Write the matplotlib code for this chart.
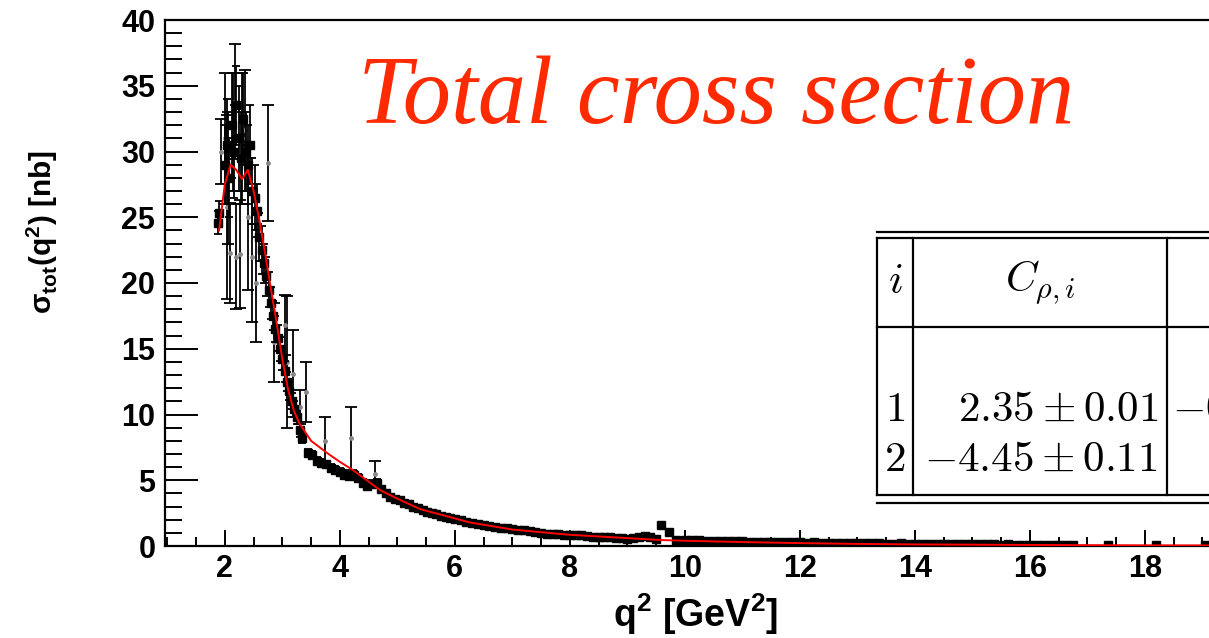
"""Total cross section vs q^2 with fit curve and coefficient table."""

import matplotlib
matplotlib.use("Agg")
import matplotlib.pyplot as plt
from matplotlib.lines import Line2D
from matplotlib.ticker import MultipleLocator

# black squares (dense data set)
x_sq = [1.88, 1.90, 2.00, 2.04, 2.08, 2.12, 2.16, 2.20, 2.24, 2.28, 2.32, 2.36, 2.40, 2.44,
        2.48, 2.52, 2.56, 2.60, 2.64, 2.68, 2.72, 2.76, 2.80, 2.84, 2.88, 2.92, 2.96, 3.00,
        3.04, 3.08, 3.12, 3.16, 3.20, 3.25, 3.30, 3.35, 3.45, 3.52, 3.60, 3.68, 3.76, 3.84,
        3.92, 4.00, 4.08, 4.16, 4.24, 4.32, 4.40, 4.48, 4.56, 4.64, 4.72, 4.80, 4.88, 4.96,
        5.04, 5.12, 5.20, 5.28, 5.36, 5.44, 5.52, 5.60, 5.68, 5.76, 5.84, 5.92, 6.00, 6.10,
        6.20, 6.30, 6.40, 6.50, 6.60, 6.70, 6.80, 6.90, 7.00, 7.10, 7.20, 7.30, 7.40, 7.50,
        7.60, 7.70, 7.80, 7.90, 8.00, 8.10, 8.20, 8.30, 8.40, 8.50, 8.60, 8.70, 8.80, 8.90,
        9.00, 9.10, 9.20, 9.30, 9.40, 9.50, 9.58, 9.72, 9.85,
        10.0, 10.125, 10.25, 10.375, 10.5, 10.625, 10.75, 10.875, 11.0, 11.125, 11.25,
        11.375, 11.5, 11.625, 11.75, 11.875, 12.0, 12.125, 12.25, 12.375, 12.5, 12.625,
        12.75, 12.875, 13.0, 13.125, 13.25, 13.375, 13.5, 13.625, 13.75, 13.875, 14.0,
        14.125, 14.25, 14.375, 14.5, 14.625, 14.75, 14.875, 15.0, 15.125, 15.25, 15.375,
        15.5, 15.625, 15.75, 15.875, 16.0, 16.125, 16.25, 16.375, 16.5, 16.625, 16.75,
        17.35, 18.2, 19.05]
y_sq = [24.6, 25.3, 29.0, 30.5, 28.0, 32.0, 30.0, 33.5, 31.0, 29.5, 32.5, 30.0, 29.0, 30.5,
        27.0, 26.5, 25.5, 23.5, 22.5, 21.5, 20.5, 19.5, 18.5, 17.5, 16.5, 15.8, 15.0, 14.2,
        13.3, 12.5, 11.8, 11.0, 10.4, 9.8, 8.8, 8.2, 7.1, 6.9, 6.5, 6.3, 6.2, 5.9,
        5.8, 5.6, 5.4, 5.3, 5.4, 5.2, 4.8, 4.6, 4.7, 4.8, 4.3, 4.0, 3.7, 3.6,
        3.5, 3.3, 3.2, 3.0, 2.9, 2.7, 2.6, 2.5, 2.4, 2.3, 2.2, 2.1, 2.05, 1.95,
        1.85, 1.75, 1.70, 1.60, 1.55, 1.45, 1.40, 1.35, 1.30, 1.25, 1.20, 1.15, 1.05, 1.00,
        0.95, 0.95, 0.90, 0.85, 0.85, 0.80, 0.80, 0.75, 0.70, 0.70, 0.65, 0.65, 0.60, 0.60,
        0.55, 0.60, 0.65, 0.75, 0.70, 0.55, 1.60, 1.05, 0.45,
        0.45, 0.42, 0.45, 0.40, 0.38, 0.40, 0.36, 0.35, 0.36, 0.33, 0.32,
        0.33, 0.30, 0.31, 0.28, 0.30, 0.27, 0.26, 0.28, 0.24, 0.25, 0.23,
        0.24, 0.22, 0.21, 0.22, 0.20, 0.21, 0.19, 0.18, 0.20, 0.17, 0.18,
        0.16, 0.17, 0.15, 0.16, 0.14, 0.15, 0.13, 0.14, 0.13, 0.12, 0.13,
        0.11, 0.12, 0.10, 0.11, 0.10, 0.11, 0.09, 0.10, 0.09, 0.08, 0.09,
        0.08, 0.06, 0.05]
e_sq = [0.9, 0.9, 3.0, 3.5, 3.0, 4.0, 3.5, 3.0, 4.0, 3.5, 3.5, 3.0, 3.0, 3.0,
        2.5, 2.5, 2.0, 1.8, 1.8, 1.5, 1.5, 1.3, 1.2, 1.1, 1.0, 1.0, 0.9, 0.8,
        0.8, 0.7, 0.7, 0.6, 0.6, 0.5, 0.5, 0.4] + [0.3] * 16 + [0.2] * 16
e_sq += [0.1] * (len(x_sq) - len(e_sq))

# open symbols with large errors (older measurements)
x_old = [1.93, 2.00, 2.03, 2.06, 2.09, 2.14, 2.17, 2.20, 2.26, 2.30, 2.35, 2.40, 2.47,
         2.55, 2.75, 2.85, 3.04, 3.09, 3.18, 3.30, 3.42, 3.75, 4.20, 4.62]
y_old = [30.0, 31.0, 25.8, 28.0, 22.3, 31.5, 33.8, 22.0, 22.2, 31.0, 31.6, 25.0, 22.0,
         20.0, 29.1, 15.5, 16.8, 14.0, 13.1, 10.6, 11.7, 8.0, 8.2, 5.5]
e_old = [2.5, 5.0, 7.0, 5.0, 3.8, 4.5, 4.4, 4.0, 4.1, 5.0, 4.6, 5.5, 5.0,
         4.5, 4.4, 3.0, 2.3, 5.0, 3.3, 1.3, 2.3, 1.8, 2.4, 1.0]

# fit curve
x_fit = [1.90, 2.00, 2.10, 2.20, 2.30, 2.40, 2.50, 2.60, 2.70, 2.80, 2.90, 3.00, 3.10,
         3.20, 3.30, 3.50, 3.77, 4.00, 4.22, 4.70, 5.00, 5.40, 6.00, 6.25, 7.00, 8.00,
         9.00, 9.60, 10.0, 11.0, 12.0, 13.0, 14.0, 16.0, 18.0, 20.0]
y_fit = [24.0, 27.5, 29.0, 28.6, 27.9, 28.6, 27.0, 24.8, 22.3, 19.6, 17.0, 14.2, 11.9,
         10.3, 9.3, 8.0, 7.1, 6.4, 5.8, 4.25, 3.6, 2.8, 2.1, 1.8, 1.25, 0.85,
         0.6, 0.45, 0.4, 0.3, 0.22, 0.16, 0.12, 0.08, 0.05, 0.04]

W, H = 1209, 638
plt.rcParams["font.family"] = ["Liberation Sans", "DejaVu Sans"]

fig = plt.figure(figsize=(W / 100, H / 100), dpi=100)
ax = fig.add_axes([165 / W, 92 / H, 1095 / W, 526 / H])

ax.errorbar(x_old, y_old, yerr=e_old, fmt="o", ms=2.5, color="#888888", ecolor="black",
            elinewidth=1.3, capsize=4, capthick=1.3, zorder=2)
ax.errorbar(x_sq, y_sq, yerr=e_sq, fmt="s", ms=5.5, color="black", ecolor="black",
            elinewidth=1.3, capsize=3, capthick=1.3, zorder=3)
ax.plot(x_fit, y_fit, color="red", lw=1.4, zorder=4)

ax.set_xlim(0.96, 20)
ax.set_ylim(0, 40)
ax.xaxis.set_minor_locator(MultipleLocator(0.5))
ax.yaxis.set_major_locator(MultipleLocator(5))
ax.yaxis.set_minor_locator(MultipleLocator(1))
ax.set_xticks([2, 4, 6, 8, 10, 12, 14, 16, 18])
ax.tick_params(axis="both", which="both", direction="in", width=1.4, labelsize=22)
ax.tick_params(axis="y", which="major", length=24, pad=7)
ax.tick_params(axis="y", which="minor", length=12.5)
ax.tick_params(axis="x", which="major", length=11.5, pad=6)
ax.tick_params(axis="x", which="minor", length=6.5)
for lab in ax.get_xticklabels() + ax.get_yticklabels():
    lab.set_fontweight("bold")
for sp in ax.spines.values():
    sp.set_linewidth(1.6)

fig.text(778 / W, 1 - 627 / H, r"q$^{\mathregular{2}}$ [GeV$^{\mathregular{2}}$]",
         ha="right", va="baseline", fontsize=27, fontweight="bold")
fig.text(42 / W, 1 - 150 / H, r"σ$_{\mathregular{tot}}$(q$^{\mathregular{2}}$) [nb]",
         ha="center", va="top", rotation=90, fontsize=21.5, fontweight="bold")

fig.text(358 / W, 1 - 123 / H, "Total cross section", ha="left", va="baseline",
         fontsize=69.5, style="italic", family="Liberation Serif", color="#ff2a00")


def fx(px):
    return px / W


def fy(py):
    return 1 - py / H


def hline(py, x0, x1, lw=1.6):
    fig.add_artist(Line2D([fx(x0), fx(x1)], [fy(py), fy(py)], color="black", lw=lw,
                          zorder=6))


def vline(px, y0, y1, lw=1.6):
    fig.add_artist(Line2D([fx(px), fx(px)], [fy(y0), fy(y1)], color="black", lw=lw,
                          zorder=6))


# coefficient table (clipped at the right edge, as in the original)
fig.add_artist(plt.Rectangle((fx(877), fy(495)), fx(1300) - fx(877), fy(238) - fy(495),
                             facecolor="white", edgecolor="none", zorder=5))
hline(232, 877, 1260)
hline(238, 877, 1260)
hline(327, 877, 1260)
hline(495, 877, 1260)
hline(503, 877, 1260)
vline(877, 238, 495)
vline(913, 238, 495)
vline(1167, 238, 495)

tkw = dict(fontsize=31, math_fontfamily="cm", va="center", zorder=7)
fig.text(fx(895), fy(282), r"$i$", ha="center", **tkw)
fig.text(fx(1040), fy(282), r"$C_{\rho,i}$", ha="center", **tkw)
fig.text(fx(895), fy(410), r"$1$", ha="center", **tkw)
fig.text(fx(895), fy(460), r"$2$", ha="center", **tkw)
fig.text(fx(1158), fy(410), r"$2.35\pm0.01$", ha="right", **tkw)
fig.text(fx(1158), fy(460), r"$-4.45\pm0.11$", ha="right", **tkw)
fig.text(fx(1172), fy(410), r"$-0.20\pm0.01$", ha="left", **tkw)

fig.savefig("out.png", dpi=100)
